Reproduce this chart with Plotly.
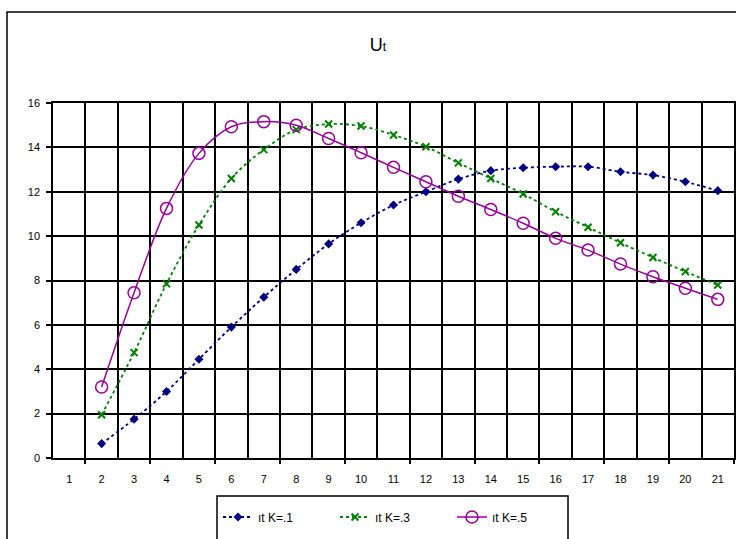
import plotly.graph_objects as go

categories = list(range(1, 22))
x_points = list(range(2, 22))

u_k01 = [0.65, 1.75, 3.0, 4.45, 5.9, 7.25, 8.5, 9.65, 10.6, 11.4, 12.0, 12.57, 12.95, 13.08,
         13.13, 13.13, 12.9, 12.75, 12.45, 12.05]
u_k03 = [1.95, 4.75, 7.85, 10.5, 12.6, 13.9, 14.8, 15.05, 14.96, 14.56, 14.03, 13.3, 12.6, 11.9,
         11.1, 10.4, 9.7, 9.04, 8.4, 7.8]
u_k05 = [3.2, 7.45, 11.25, 13.73, 14.93, 15.16, 15.0, 14.4, 13.76, 13.1, 12.45, 11.8, 11.2, 10.58,
         9.9, 9.37, 8.74, 8.17, 7.65, 7.15]

names = ["ıt K=.1", "ıt K=.3", "ıt K=.5"]
y_ticks = [0, 2, 4, 6, 8, 10, 12, 14, 16]

font = "Liberation Sans, Arial, sans-serif"

fig = go.Figure()
fig.add_trace(go.Scatter(x=x_points, y=u_k01, name=names[0], mode="lines+markers",
                         line=dict(color="#000080", width=1.8, dash="dot", shape="spline"),
                         marker=dict(symbol="diamond", size=7, color="#000080")))
fig.add_trace(go.Scatter(x=x_points, y=u_k03, name=names[1], mode="lines+markers",
                         line=dict(color="#008000", width=1.8, dash="dot", shape="spline"),
                         marker=dict(symbol="x-thin", size=7, color="#008000",
                                     line=dict(color="#008000", width=2))))
fig.add_trace(go.Scatter(x=x_points, y=u_k05, name=names[2], mode="lines+markers",
                         line=dict(color="#990099", width=1.5, shape="spline"),
                         marker=dict(symbol="circle-open", size=12, color="#990099",
                                     line=dict(color="#990099", width=1.5))))
# invisible trace for second x axis (tick marks every two categories)
fig.add_trace(go.Scatter(x=[1.5], y=[0], xaxis="x2", mode="markers",
                         marker=dict(opacity=0), showlegend=False, hoverinfo="skip"))

fig.update_layout(
    width=736, height=539,
    margin=dict(l=53, r=2, t=103, b=81),
    paper_bgcolor="white", plot_bgcolor="white",
    font=dict(family=font, size=11, color="black"),
    title=dict(text="U<span style='font-size:12px'>t</span>", x=378/736, xref="container",
               xanchor="center", y=1 - 45/539, yref="container", yanchor="middle",
               font=dict(family=font, size=18, color="black")),
    showlegend=True,
    legend=dict(orientation="h", x=(218-53)/681, xanchor="left", y=(458-517)/355,
                yanchor="middle", bgcolor="rgba(0,0,0,0)", borderwidth=0,
                entrywidth=72, entrywidthmode="pixels",
                font=dict(family=font, size=12, color="black")),
    xaxis=dict(range=[0.5, 21.5], tickmode="array", tickvals=categories,
               ticktext=[str(c) for c in categories], ticks="", showgrid=False,
               showline=True, linecolor="black", linewidth=1.5, mirror=True,
               zeroline=False, ticklabelstandoff=10, automargin=False,
               minor=dict(tickmode="array", tickvals=[c + 0.5 for c in range(0, 22)],
                          showgrid=True, gridcolor="black", gridwidth=1.5, ticks="")),
    xaxis2=dict(range=[0.5, 21.5], overlaying="x", anchor="y", side="bottom",
                tickmode="array", tickvals=[c + 0.5 for c in range(1, 22, 2)],
                ticks="outside", ticklen=5, tickwidth=1.5, tickcolor="black",
                showticklabels=False, showgrid=False, zeroline=False, showline=False),
    yaxis=dict(range=[0, 16], tickmode="array", tickvals=y_ticks, ticks="outside",
               ticklen=5, tickwidth=1.5, tickcolor="black", showgrid=True,
               gridcolor="black", gridwidth=1.5, showline=True, linecolor="black",
               linewidth=1.5, mirror=True, zeroline=False, ticklabelstandoff=4,
               automargin=False),
    shapes=[
        dict(type="rect", xref="paper", yref="paper",
             x0=(7-53)/681, x1=1.1, y0=-0.5, y1=(458-12)/355,
             line=dict(color="black", width=1.5), layer="below"),
        dict(type="rect", xref="paper", yref="paper",
             x0=(217-53)/681, x1=(568-53)/681, y0=-0.5, y1=(458-496)/355,
             line=dict(color="black", width=1.5), layer="below"),
    ],
)

fig.write_html("out.html", config={"displayModeBar": False},
               post_script="document.body.style.margin='0';document.body.style.overflow='hidden';")
